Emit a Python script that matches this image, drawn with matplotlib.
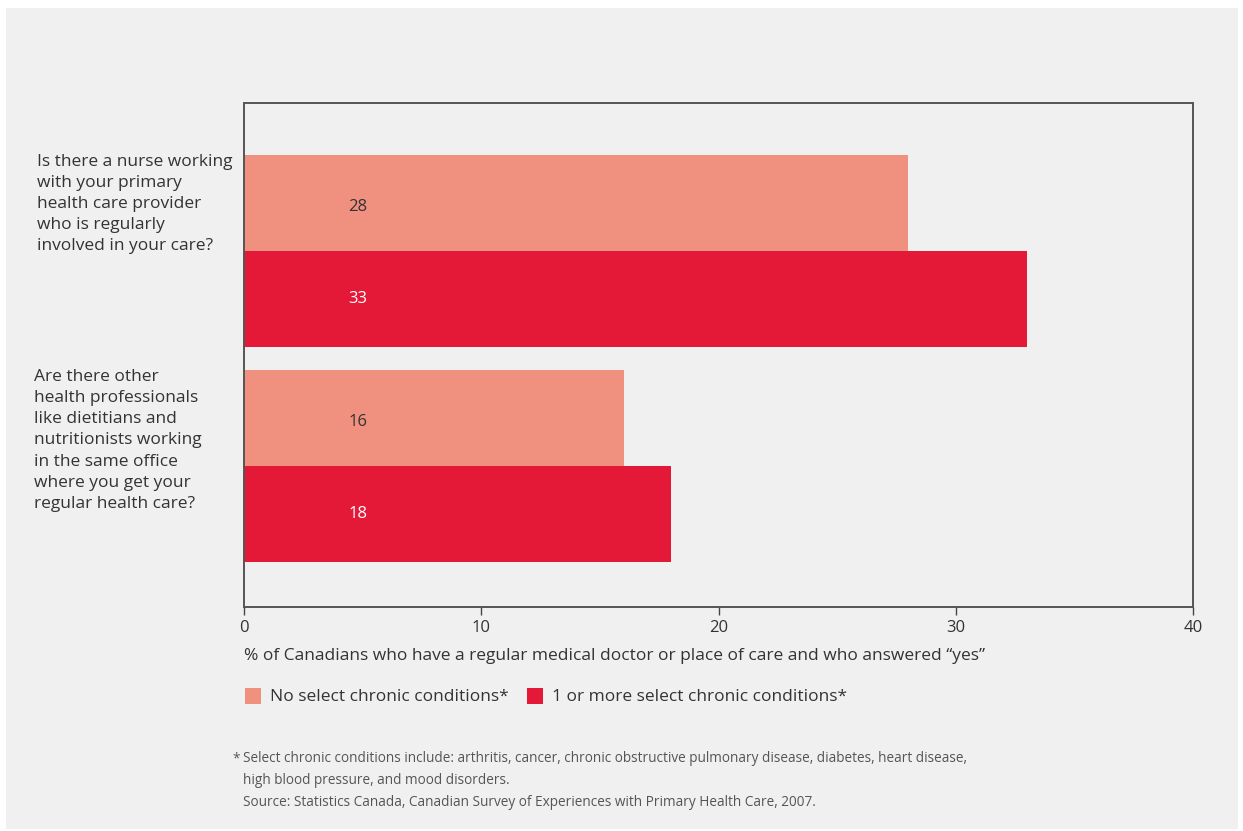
import matplotlib.pyplot as plt
from matplotlib.patches import Rectangle
from matplotlib.transforms import blended_transform_factory
from matplotlib import font_manager

# survey data
questions = [
    "Is there a nurse working\nwith your primary\nhealth care provider\nwho is regularly\ninvolved in your care?",
    "Are there other\nhealth professionals\nlike dietitians and\nnutritionists working\nin the same office\nwhere you get your\nregular health care?",
]
series_names = ["No select chronic conditions*", "1 or more select chronic conditions*"]
no_chronic = [28, 16]
with_chronic = [33, 18]
x_ticks = [0, 10, 20, 30, 40]

light_red = "#F0907E"
dark_red = "#E31937"
bg = "#EFF0EF"
text_col = "#333333"

names = {f.name for f in font_manager.fontManager.ttflist}
body_font = "Open Sans" if "Open Sans" in names else "DejaVu Sans"
narrow_font = "Liberation Sans Narrow" if "Liberation Sans Narrow" in names else body_font

W, H = 1243, 831
fig = plt.figure(figsize=(W / 100, H / 100), dpi=100, facecolor="white")

def fx(px):
    return px / W

def fy(py):
    return 1 - py / H

# grey panel behind everything
fig.patches.append(Rectangle((fx(6), fy(829)), fx(1238) - fx(6), fy(8) - fy(829),
                             transform=fig.transFigure, facecolor=bg, edgecolor="none", zorder=-5))

ax = fig.add_axes([fx(244), fy(607), fx(1193) - fx(244), fy(103) - fy(607)])
ax.set_zorder(3)
ax.set_facecolor(bg)
left_of_axes = blended_transform_factory(fig.transFigure, ax.transData)

bar_h = 0.4465
for i in range(len(questions)):
    ax.barh(i - bar_h / 2, no_chronic[i], height=bar_h, color=light_red, zorder=2)
    ax.barh(i + bar_h / 2, with_chronic[i], height=bar_h, color=dark_red, zorder=2)
    ax.text(4.8, i - bar_h / 2 + 0.02, str(no_chronic[i]), ha="center", va="center",
            fontsize=12, color=text_col, family=body_font, zorder=3)
    ax.text(4.8, i + bar_h / 2 - 0.002, str(with_chronic[i]), ha="center", va="center",
            fontsize=12, color="white", family=body_font, zorder=3)
    # question text sits to the left of its pair of bars
    ax.text(fx(37 if i == 0 else 34), i - bar_h - 0.005, questions[i],
            transform=left_of_axes, ha="left", va="top", fontsize=12.5,
            color=text_col, family=body_font, linespacing=1.43, clip_on=False)

ax.set_xlim(0, 40)
ax.set_ylim(1.656, -0.688)
ax.set_yticks([])
ax.set_xticks(x_ticks)
ax.set_xticklabels([str(t) for t in x_ticks], family=narrow_font, fontsize=12, color=text_col)
ax.tick_params(axis="x", direction="out", length=6, width=1, color="#444444", pad=3)
for s in ax.spines.values():
    s.set_color("#555555")
    s.set_linewidth(1.4)

fig.text(fx(244), fy(656), "% of Canadians who have a regular medical doctor or place of care and who answered \u201cyes\u201d",
         ha="left", va="center", fontsize=12.5, family=narrow_font, color=text_col)

# legend
for x0, col, label in [(245, light_red, series_names[0]), (527, dark_red, series_names[1])]:
    fig.patches.append(Rectangle((fx(x0), fy(704)), fx(16), 16 / H,
                                 transform=fig.transFigure, facecolor=col, edgecolor="none"))
    fig.text(fx(x0 + 25), fy(697), label, ha="left", va="center", fontsize=12.5,
             family=narrow_font, color=text_col)

# footnotes
foot_col = "#555555"
fig.text(fx(232), fy(759), "*", ha="left", va="center", fontsize=9.8, family=narrow_font, color=foot_col)
notes = [
    "Select chronic conditions include: arthritis, cancer, chronic obstructive pulmonary disease, diabetes, heart disease,",
    "high blood pressure, and mood disorders.",
    "Source: Statistics Canada, Canadian Survey of Experiences with Primary Health Care, 2007.",
]
for k, line in enumerate(notes):
    fig.text(fx(243), fy(759 + 22 * k), line, ha="left", va="center", fontsize=9.8,
             family=narrow_font, color=foot_col)

fig.savefig("out.png", dpi=100, facecolor="white")
